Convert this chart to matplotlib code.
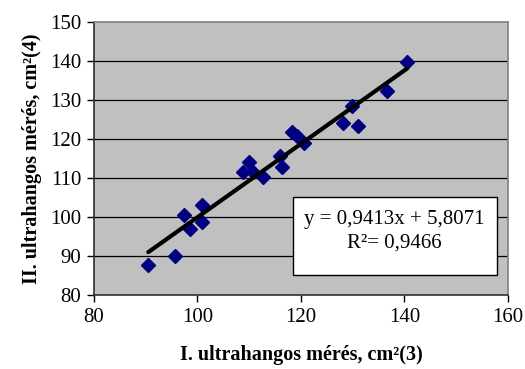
import numpy as np
import matplotlib
matplotlib.use("Agg")
import matplotlib.pyplot as plt
from matplotlib.patches import Rectangle

meres_1 = [90.5, 95.7, 97.3, 98.6, 100.8, 100.8, 108.7, 110.0, 110.8, 112.7,
           115.9, 116.4, 118.3, 119.2, 120.6, 128.2, 129.8, 131.0, 136.7, 140.5]
meres_2 = [87.7, 90.0, 100.5, 96.8, 103.1, 98.8, 111.6, 114.0, 111.6, 110.3,
           115.7, 112.9, 121.9, 120.8, 118.9, 124.2, 128.5, 123.2, 132.4, 139.7]

slope = 0.9413
intercept = 5.8071
r2 = 0.9466

x_ticks = [80, 100, 120, 140, 160]
y_ticks = [80, 90, 100, 110, 120, 130, 140, 150]

plt.rcParams['font.family'] = ['Liberation Serif', 'DejaVu Serif']

fig = plt.figure(figsize=(5.25, 3.69), dpi=100)
ax = fig.add_axes([0.179, 0.2005, 0.7886, 0.74])
ax.set_facecolor('#C0C0C0')

ax.set_xlim(80, 160)
ax.set_ylim(80, 150)
ax.set_xticks(x_ticks)
ax.set_yticks(y_ticks)
ax.tick_params(labelsize=15, direction='out', length=5, width=1, pad=4)

for y in y_ticks[1:-1]:
    ax.axhline(y, color='black', lw=0.9, zorder=1)

for side in ['top', 'right']:
    ax.spines[side].set_color('#808080')
    ax.spines[side].set_linewidth(1.2)
for side in ['left', 'bottom']:
    ax.spines[side].set_color('#303030')
    ax.spines[side].set_linewidth(1.2)

ax.plot(meres_1, meres_2, 'D', color='#000080', markersize=7, zorder=3)

xs = np.array([min(meres_1), max(meres_1)])
ax.plot(xs, slope * xs + intercept, color='black', lw=3, solid_capstyle='round', zorder=4)

ax.add_patch(Rectangle((0.48, 0.073), 0.4927, 0.285, transform=ax.transAxes,
                       facecolor='white', edgecolor='black', lw=1, zorder=5))
ax.text(0.726, 0.275, 'y = {:.4f}x + {:.4f}'.format(slope, intercept).replace('.', ','),
        transform=ax.transAxes, ha='center', va='center', fontsize=15, zorder=6)
ax.text(0.726, 0.19, 'R²= {:.4f}'.format(r2).replace('.', ','), transform=ax.transAxes,
        ha='center', va='center', fontsize=15, zorder=6)

ax.set_xlabel('I. ultrahangos mérés, cm²(3)', fontsize=14.5, fontweight='bold', labelpad=13)
ax.set_ylabel('II. ultrahangos mérés, cm²(4)', fontsize=14.5, fontweight='bold', labelpad=6)

fig.savefig('out.png', dpi=100)
